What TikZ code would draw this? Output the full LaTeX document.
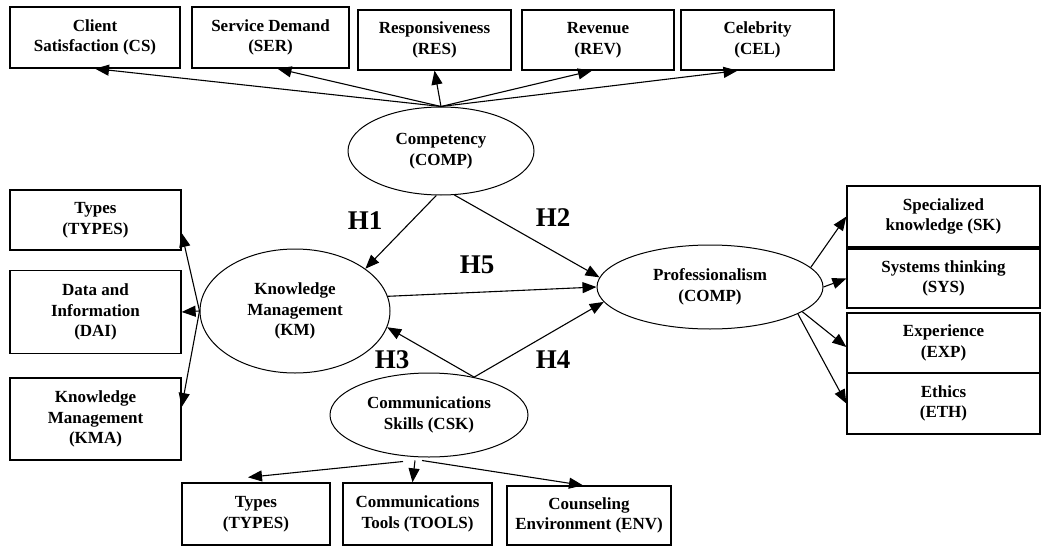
\documentclass[tikz,border=0pt]{standalone}
\usepackage{fontspec}
\setmainfont{Liberation Serif}
\usetikzlibrary{shapes.geometric,arrows.meta}
\begin{document}
\begin{tikzpicture}[x=1pt,y=-1pt,
  box/.style={draw,line width=1.3pt,rectangle,inner sep=0pt,align=center,
    font=\fontsize{17}{20.5}\selectfont\bfseries},
  oval/.style={draw,line width=1pt,ellipse,inner sep=0pt,align=center,
    font=\fontsize{17}{20.5}\selectfont\bfseries},
  conn/.style={line width=1.1pt,-{Triangle[length=14pt,width=11pt]}},
  hyp/.style={font=\fontsize{27}{30}\selectfont\bfseries}]
\useasboundingbox (0,0) rectangle (1041,546);
% top boxes
\node[box,minimum width=170,minimum height=61] (cs) at (95,37.5) {Client\\Satisfaction (CS)};
\node[box,minimum width=157,minimum height=61] (ser) at (270.5,37.5) {Service Demand\\(SER)};
\node[box,minimum width=153,minimum height=60] (res) at (434.5,40) {Responsiveness\\(RES)};
\node[box,minimum width=152,minimum height=60] (rev) at (598,40) {Revenue\\(REV)};
\node[box,minimum width=153,minimum height=60] (cel) at (757.5,40) {Celebrity\\(CEL)};
% left boxes
\node[box,minimum width=171,minimum height=60] (types) at (95.5,220) {Types\\(TYPES)};
\node[box,minimum width=171,minimum height=83] (dai) at (95.5,312) {Data and\\Information\\(DAI)};
\node[box,minimum width=171,minimum height=82] (kma) at (95.5,419) {Knowledge\\Management\\(KMA)};
% right boxes
\node[box,minimum width=193,minimum height=61] (sk) at (943.5,216.5) {Specialized\\knowledge (SK)};
\node[box,minimum width=193,minimum height=59] (sys) at (943.5,278.5) {Systems thinking\\(SYS)};
\node[box,minimum width=193,minimum height=60] (exp) at (943.5,343) {Experience\\(EXP)};
\node[box,minimum width=193,minimum height=61] (eth) at (943.5,403.5) {Ethics\\(ETH)};
% bottom boxes
\node[box,minimum width=148,minimum height=62] (types2) at (256,514) {Types\\(TYPES)};
\node[box,minimum width=149,minimum height=62] (tools) at (417.5,514) {Communications\\Tools (TOOLS)};
\node[box,minimum width=164,minimum height=59] (env) at (589,515.5) {Counseling\\Environment (ENV)};
% ellipses
\node[oval,minimum width=186,minimum height=88] (comp) at (441,151) {Competency\\(COMP)};
\node[oval,minimum width=190,minimum height=124] (km) at (295,311) {Knowledge\\Management\\(KM)};
\node[oval,minimum width=226,minimum height=84] (prof) at (710,287) {Professionalism\\(COMP)};
\node[oval,minimum width=198,minimum height=84] (csk) at (429,415) {Communications\\Skills (CSK)};
% hypothesis labels
\node[hyp] (h1) at (365,221) {H1};
\node[hyp] (h2) at (553,218) {H2};
\node[hyp] (h5) at (477,265) {H5};
\node[hyp] (h3) at (392,360) {H3};
\node[hyp] (h4) at (553,360) {H4};
% competency indicators
\draw[conn] (comp.north) -- (cs.south);
\draw[conn] (comp.north) -- ([xshift=7pt]ser.south);
\draw[conn] (comp.north) -- (res.south);
\draw[conn] (comp.north) -- ([xshift=-6pt]rev.south);
\draw[conn] (comp.north) -- ([xshift=-20pt]cel.south);
% KM indicators
\draw[conn] (km.west) -- ([yshift=-13pt]types.east);
\draw[conn] (km.west) -- (dai.east);
\draw[conn] (km.west) -- ([yshift=12pt]kma.east);
% hypotheses
\draw[conn] (comp.-96) -- (km.31);
\draw[conn] (comp.-73) -- (prof.175);
\draw[conn] (km.9) -- (prof.180);
\draw[conn] (csk.40) -- (km.-10);
\draw[conn] (csk.40) -- (prof.188);
% professionalism indicators
\draw[conn] (prof.11) -- (sk.west);
\draw[conn] (prof.east) -- (sys.west);
\draw[conn] (prof.-15) -- ([yshift=-4pt]exp.west);
\draw[conn] (prof.-17) -- (eth.west);
% CSK indicators
\draw[conn] ([xshift=-26pt,yshift=-4pt]csk.south) -- ([xshift=-8pt,yshift=5pt]types2.north);
\draw[conn] ([xshift=-14pt,yshift=-3pt]csk.south) -- ([xshift=-5pt]tools.north);
\draw[conn] ([xshift=-7pt,yshift=-3pt]csk.south) -- ([xshift=-6pt]env.north);
\end{tikzpicture}
\end{document}
